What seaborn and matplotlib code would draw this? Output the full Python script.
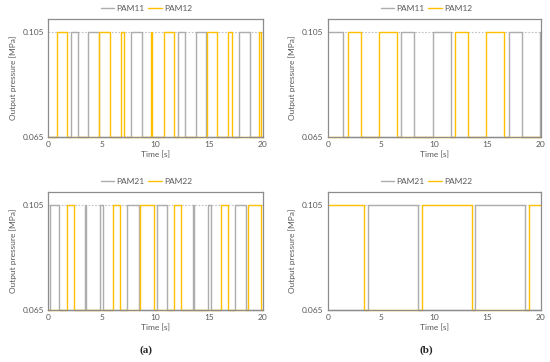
import numpy as np
import pandas as pd
import matplotlib
matplotlib.use("Agg")
import matplotlib.pyplot as plt
import seaborn as sns

# switching times [s] and initial level of each valve signal
LOW, HIGH = 0.065, 0.105
T_END = 20

a_pam11_start = LOW
a_pam11_switch = [2.1, 2.75, 3.75, 4.7, 7.75, 8.75, 12.05, 12.75, 13.75, 14.7, 17.75, 18.75]
a_pam12_start = LOW
a_pam12_switch = [0.8, 1.75, 4.75, 5.75, 6.75, 7.08, 9.62, 9.72, 10.75, 11.7,
                  14.75, 15.75, 16.75, 17.08, 19.6, 19.78]

a_pam21_start = LOW
a_pam21_switch = [0.15, 1.02, 3.45, 3.55, 4.85, 5.15, 7.33, 8.45, 10.15, 11.03,
                  13.45, 13.55, 14.85, 15.13, 17.35, 18.45]
a_pam22_start = LOW
a_pam22_switch = [1.77, 2.38, 6.05, 6.72, 8.57, 9.85, 11.7, 12.35, 16.05, 16.75, 18.56, 19.83]

b_pam11_start = HIGH
b_pam11_switch = [1.47, 6.92, 8.14, 9.86, 11.6, 16.98, 18.2, 19.9]
b_pam12_start = LOW
b_pam12_switch = [1.88, 3.17, 4.84, 6.48, 11.96, 13.21, 14.87, 16.52]

b_pam21_start = LOW
b_pam21_switch = [3.76, 8.48, 13.83, 18.53]
b_pam22_start = HIGH
b_pam22_switch = [3.44, 8.83, 13.52, 18.9]

GRAY = "#ADADAD"
YELLOW = "#FFC000"
TXT = "#595959"


def signal(name, start, switches):
    t = [0.0] + list(switches) + [T_END]
    other = HIGH if start == LOW else LOW
    y = [start if i % 2 == 0 else other for i in range(len(switches) + 1)]
    y = y + [y[-1]]
    return pd.DataFrame({"Time [s]": t, "p": y, "series": name})


panels = [
    # (axes rect, legend center x, legend y, series)
    ([48 / 550, 1 - 137 / 362, 215 / 550, 118 / 362], 146.5, 8.5,
     [("PAM11", a_pam11_start, a_pam11_switch), ("PAM12", a_pam12_start, a_pam12_switch)]),
    ([327.7 / 550, 1 - 137 / 362, 213 / 550, 118 / 362], 426.5, 8.5,
     [("PAM11", b_pam11_start, b_pam11_switch), ("PAM12", b_pam12_start, b_pam12_switch)]),
    ([48 / 550, 1 - 309.7 / 362, 215 / 550, 117.7 / 362], 146.5, 181.7,
     [("PAM21", a_pam21_start, a_pam21_switch), ("PAM22", a_pam22_start, a_pam22_switch)]),
    ([327.7 / 550, 1 - 309.7 / 362, 213 / 550, 117.7 / 362], 426.5, 181.7,
     [("PAM21", b_pam21_start, b_pam21_switch), ("PAM22", b_pam22_start, b_pam22_switch)]),
]

sns.set_theme(style="white")
plt.rcParams["font.family"] = ["Lato", "DejaVu Sans"]

fig = plt.figure(figsize=(5.5, 3.62), dpi=100)

for rect, lx, ly, series in panels:
    ax = fig.add_axes(rect)
    df = pd.concat([signal(n, s, sw) for n, s, sw in series], ignore_index=True)
    names = [n for n, _, _ in series]
    sns.lineplot(data=df, x="Time [s]", y="p", hue="series", hue_order=names,
                 palette=[GRAY, YELLOW], drawstyle="steps-post", linewidth=1.0,
                 estimator=None, sort=False, ax=ax, clip_on=False, legend=False)
    ax.set_xlim(0, T_END)
    ax.set_ylim(LOW, 0.11)
    ax.set_xticks([0, 5, 10, 15, 20])
    ax.set_yticks([LOW, HIGH])
    ax.set_yticklabels(["0.065", "0.105"])
    ax.axhline(HIGH, color="#BFBFBF", lw=0.8, ls=(0, (1.5, 1.5)), zorder=0)
    ax.tick_params(length=0, labelsize=6, colors=TXT, pad=3)
    ax.set_xlabel("Time [s]", fontsize=6, color=TXT, labelpad=2)
    ax.set_ylabel("Output pressure [MPa]", fontsize=6, color=TXT, labelpad=4)
    for sp in ax.spines.values():
        sp.set_color("#8C8C8C")
        sp.set_linewidth(0.9)

    handles = [plt.Line2D([], [], color=c, lw=1.0) for c in (GRAY, YELLOW)]
    fig.legend(handles, names, loc="center", bbox_to_anchor=(lx / 550, 1 - ly / 362),
               ncol=2, frameon=False, fontsize=6, handlelength=1.6,
               handletextpad=0.3, columnspacing=0.4, labelcolor=TXT)

fig.text(146 / 550, 1 - 350 / 362, "(a)", ha="center", va="center",
         fontsize=8, fontweight="bold", family="Liberation Serif")
fig.text(426.5 / 550, 1 - 350 / 362, "(b)", ha="center", va="center",
         fontsize=8, fontweight="bold", family="Liberation Serif")

fig.savefig("out.png", dpi=100)
